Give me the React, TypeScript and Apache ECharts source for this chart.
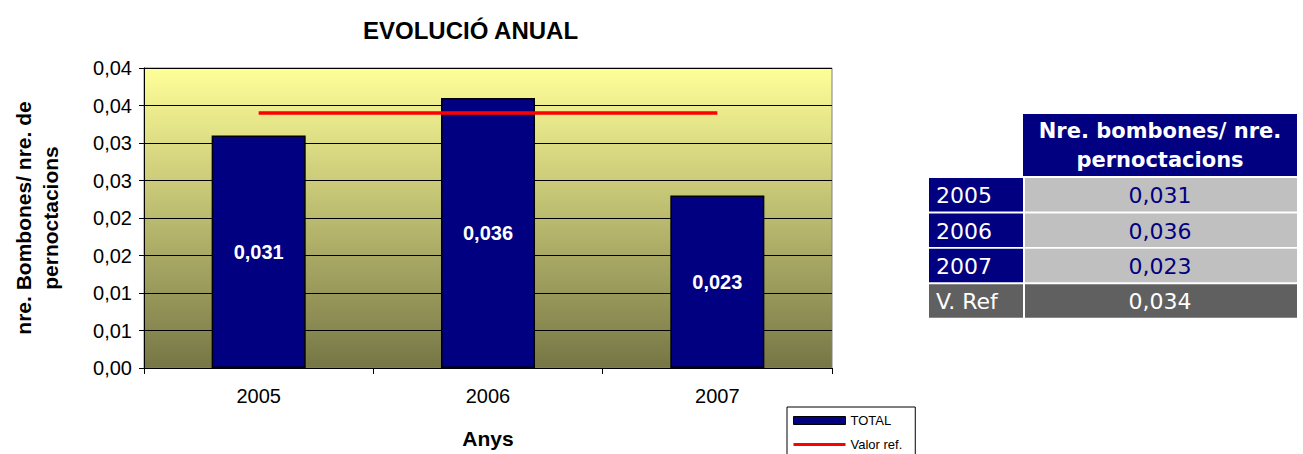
import React, { useEffect, useRef } from "react";
import * as echarts from "echarts";

const years = ["2005", "2006", "2007"];
const totalValues = [0.031, 0.036, 0.023];
const refValue = 0.034;
const refLabel = "V. Ref";
const seriesNames = ["TOTAL", "Valor ref."];
const yMin = 0;
const yMax = 0.04;
const yInterval = 0.005;
const tableHeader = "Nre. bombones/ nre.\npernoctacions";

const fmt2 = (v: number) => (Math.round(v * 100 + 1e-9) / 100).toFixed(2).replace(".", ",");
const fmt3 = (v: number) => v.toFixed(3).replace(".", ",");

const ARIAL = "'Liberation Sans', Arial, sans-serif";
const TAHOMA = "'DejaVu Sans', Verdana, sans-serif";

function buildTable(): any[] {
  const els: any[] = [];
  const headX = 1023, headY = 114, headW = 274, headH = 62;
  els.push({ type: "rect", shape: { x: headX, y: headY, width: headW, height: headH }, style: { fill: "#000080" } });
  els.push({
    type: "text", x: 1160, y: headY + headH / 2,
    style: { text: tableHeader, fill: "#ffffff", fontSize: 21, fontWeight: "bold", fontFamily: TAHOMA, align: "center", verticalAlign: "middle", lineHeight: 29 },
  });
  const rows = years.map((y, i) => ({ label: y, value: totalValues[i], ref: false }));
  rows.push({ label: refLabel, value: refValue, ref: true });
  rows.forEach((r, i) => {
    const top = 178 + i * 35.4;
    const h = 33.5;
    els.push({ type: "rect", shape: { x: 929, y: top, width: 94, height: h }, style: { fill: r.ref ? "#606060" : "#000080" } });
    els.push({ type: "rect", shape: { x: 1025, y: top, width: 272, height: h }, style: { fill: r.ref ? "#606060" : "#C0C0C0" } });
    els.push({
      type: "text", x: 936, y: top + h / 2 + 1,
      style: { text: r.label, fill: "#ffffff", fontSize: 22, fontFamily: TAHOMA, align: "left", verticalAlign: "middle" },
    });
    els.push({
      type: "text", x: 1160, y: top + h / 2 + 1,
      style: { text: fmt3(r.value), fill: r.ref ? "#ffffff" : "#000080", fontSize: 22, fontFamily: TAHOMA, align: "center", verticalAlign: "middle" },
    });
  });
  return els;
}

export default function App() {
  const ref = useRef<HTMLDivElement>(null);
  useEffect(() => {
    if (!ref.current) return;
    const chart = echarts.init(ref.current, null, { renderer: "svg" });
    chart.setOption({
      animation: false,
      backgroundColor: "#ffffff",
      textStyle: { fontFamily: ARIAL },
      title: {
        text: "EVOLUCIÓ ANUAL",
        left: 358,
        top: 13,
        textStyle: { fontSize: 24, fontWeight: "bold", color: "#000", fontFamily: ARIAL },
      },
      legend: {
        orient: "vertical",
        left: 787,
        top: 407,
        width: 120,
        height: 80,
        padding: [7, 13, 10, 5],
        itemGap: 11,
        itemWidth: 52,
        itemHeight: 8,
        borderColor: "#000",
        borderWidth: 1,
        textStyle: { fontSize: 13, color: "#000", fontFamily: ARIAL },
        data: [
          { name: seriesNames[0], icon: "rect", itemStyle: { color: "#000080", borderColor: "#000", borderWidth: 1 } },
          { name: seriesNames[1], itemStyle: { opacity: 0 }, lineStyle: { color: "#FF0000", width: 3 } },
        ],
      },
      grid: {
        left: 144,
        right: 471,
        top: 68,
        bottom: 81,
        show: true,
        borderColor: "#808080",
        borderWidth: 1,
        backgroundColor: new echarts.graphic.LinearGradient(0, 0, 0, 1, [
          { offset: 0, color: "#FFFF99" },
          { offset: 1, color: "#767646" },
        ]),
      },
      xAxis: {
        type: "category",
        data: years,
        name: "Anys",
        nameLocation: "middle",
        nameGap: 60,
        nameTextStyle: { fontSize: 21, fontWeight: "bold", color: "#000", fontFamily: ARIAL },
        axisLine: { lineStyle: { color: "#000", width: 1 } },
        axisTick: { show: true, length: 6, lineStyle: { color: "#000" } },
        axisLabel: { fontSize: 20, color: "#000", margin: 18, fontFamily: ARIAL },
      },
      yAxis: {
        type: "value",
        min: yMin,
        max: yMax,
        interval: yInterval,
        name: "nre. Bombones/ nre. de\npernoctacions",
        nameLocation: "middle",
        nameRotate: 90,
        nameGap: 80,
        nameTextStyle: { fontSize: 21, fontWeight: "bold", color: "#000", lineHeight: 27, fontFamily: ARIAL },
        axisLine: { show: true, lineStyle: { color: "#000", width: 1 } },
        axisTick: { show: true, length: 5, lineStyle: { color: "#000" } },
        axisLabel: { fontSize: 20, color: "#000", margin: 12, formatter: fmt2, fontFamily: ARIAL },
        splitLine: { show: true, lineStyle: { color: "#000", width: 1 } },
      },
      series: [
        {
          name: seriesNames[0],
          type: "bar",
          data: totalValues,
          barWidth: "41%",
          itemStyle: { color: "#000080", borderColor: "#000", borderWidth: 1.5 },
          label: {
            show: true,
            position: "inside",
            color: "#fff",
            fontSize: 20,
            fontWeight: "bold",
            fontFamily: ARIAL,
            formatter: (p: any) => fmt3(p.value),
          },
          z: 2,
        },
        {
          name: seriesNames[1],
          type: "line",
          data: years.map(() => refValue),
          symbol: "none",
          lineStyle: { color: "#FF0000", width: 3.5 },
          itemStyle: { color: "#FF0000" },
          z: 3,
        },
      ],
      graphic: buildTable(),
    });
    return () => chart.dispose();
  }, []);
  return <div ref={ref} style={{ position: "absolute", left: 0, top: 0, width: 1303, height: 454 }} />;
}
